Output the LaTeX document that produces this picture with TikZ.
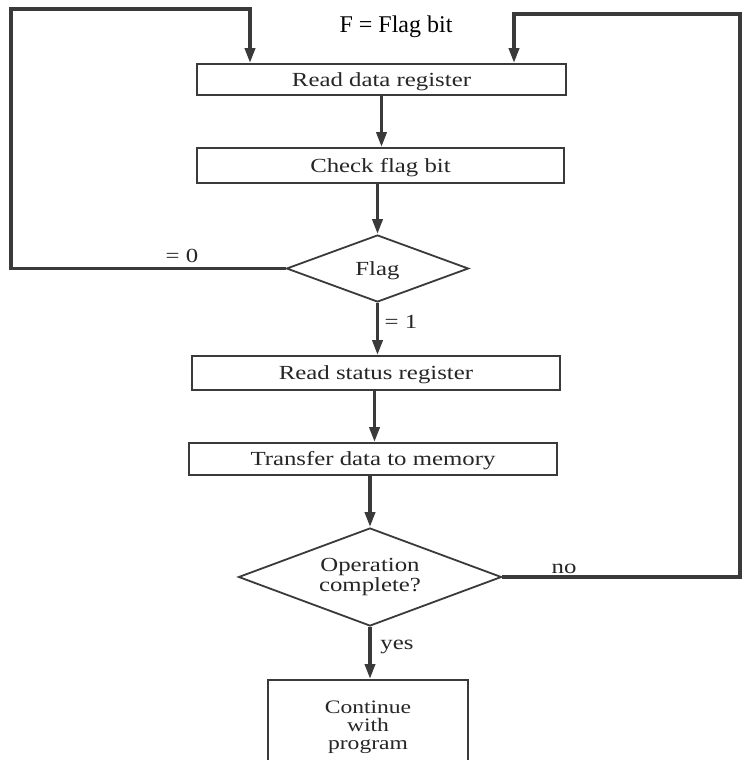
\documentclass[tikz,border=0pt]{standalone}
\usepackage{fontspec}
\setmainfont{Liberation Serif}
\newfontfamily\bookfont[FakeStretch=1.24]{Liberation Serif}
\usetikzlibrary{shapes.geometric,arrows.meta}

\definecolor{ink}{HTML}{262626}
\definecolor{rule}{HTML}{3A3A3A}

\tikzset{
  x=1pt, y=-1pt,
  every node/.style={font=\bookfont\fontsize{20}{20}\selectfont, text=ink},
  procbox/.style={draw=rule, line width=1.8pt, rectangle, inner sep=0pt,
    text height=13.5pt, text depth=0pt},
  decision/.style={draw=rule, line width=1.8pt, diamond, inner sep=0pt},
  flow/.style={draw=rule, line width=3.5pt,
    -{Triangle[length=15pt,width=10pt]}},
  loopline/.style={draw=rule, line width=3.5pt, line join=miter,
    -{Triangle[length=15pt,width=10pt]}},
  edgelabel/.style={anchor=base, inner sep=0pt},
}

\begin{document}
\begin{tikzpicture}
  \useasboundingbox (0,0) rectangle (742,760);
  \fill[white] (0,0) rectangle (742,760);
  \clip (0,0) rectangle (742,760);

  % legend
  \node[anchor=base, inner sep=0pt, font=\fontsize{24}{24}\selectfont, text=black]
    (legend) at (396,33) {F = Flag bit};

  % process steps
  \node[procbox, minimum width=369pt, minimum height=31pt] (b1) at (381.5,79.5) {Read data register};
  \node[procbox, minimum width=367pt, minimum height=35pt] (b2) at (380.5,165.5) {Check flag bit};
  \node[decision, minimum width=182pt, minimum height=67pt, aspect=2.7,
        text height=13.5pt, text depth=0pt] (d1) at (377.5,268.5) {Flag};
  \node[procbox, minimum width=368pt, minimum height=34pt] (b3) at (376,373) {Read status register};
  \node[procbox, minimum width=368pt, minimum height=32pt] (b4) at (373,459) {Transfer data to memory};
  \node[decision, minimum width=263pt, minimum height=98pt, aspect=2.7,
        align=center, font=\bookfont\fontsize{20}{19.5}\selectfont] (d2) at (370,577)
        {Operation\\complete?};
  \node[draw=rule, line width=1.8pt, rectangle, inner sep=0pt,
        minimum width=200pt, minimum height=110pt, anchor=north] (b5) at (368,679) {};
  \node[align=center, inner sep=0pt, font=\bookfont\fontsize{19}{18}\selectfont]
        (b5text) at (368,727.4) {Continue\\with\\program};

  % loop-back corners
  \coordinate (Ltop) at (11,9);
  \coordinate (Lin)  at (250,9);
  \coordinate (Rtop) at (740,14);
  \coordinate (Rin)  at (514,14);

  % main flow, kept vertical
  \draw[flow] (b1.south) -- (b1.south |- b2.north);
  \draw[flow] (d1.north |- b2.south) -- (d1.north);
  \draw[flow] (d1.south) -- (d1.south |- b3.north);
  \draw[flow] (b3.south -| b4.north) ++(1.5,0) coordinate (s34) -- (s34 |- b4.north);
  \draw[flow] (d2.north |- b4.south) -- (d2.north);
  \draw[flow] (d2.south) -- (d2.south |- b5.north);

  % loops back to the first step
  \draw[loopline] (d1.west) -| (Ltop) -- (Lin) -- (Lin |- b1.north);
  \draw[loopline] (d2.east) -| (Rtop) -- (Rin) -- (Rin |- b1.north);

  % branch labels
  \node[edgelabel] (l0)  at (182,262)   {= 0};
  \node[edgelabel] (l1)  at (401,328)   {= 1};
  \node[edgelabel] (lno) at (564,573)   {no};
  \node[edgelabel] (lye) at (397,649.5) {yes};
\end{tikzpicture}
\end{document}
